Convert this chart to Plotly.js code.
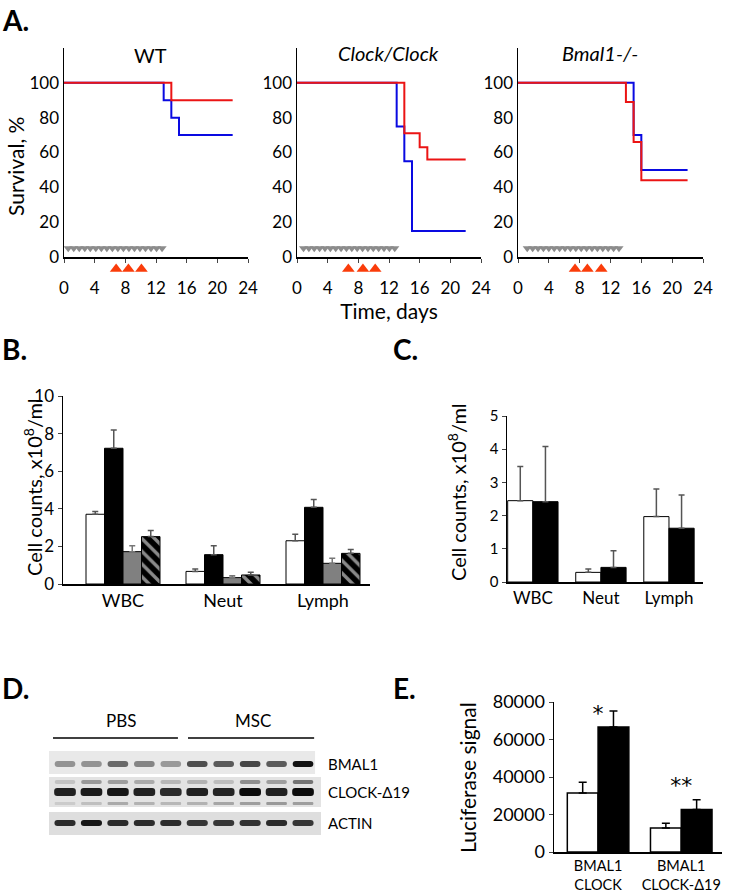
<!DOCTYPE html>
<html>
<head>
<meta charset="utf-8">
<script src="https://cdn.plot.ly/plotly-3.0.1.min.js"></script>
<style>html,body{margin:0;padding:0;background:#fff;}#chart{width:739px;height:896px;}</style>
</head>
<body>
<div id="chart"></div>
<script>
// ---------- Panel A: survival data ----------
const wtBlueT = [0, 13, 14, 15, 22];
const wtBlueS = [100, 90, 80, 70, 70];
const wtRedT = [0, 14, 22];
const wtRedS = [100, 90, 90];
const clockBlueT = [0, 13, 14, 15, 22];
const clockBlueS = [100, 75, 55, 15, 15];
const clockRedT = [0, 14, 16, 17, 22];
const clockRedS = [100, 71, 63, 56, 56];
const bmalBlueT = [0, 15, 16, 22];
const bmalBlueS = [100, 70, 50, 50];
const bmalRedT = [0, 14, 15, 16, 22];
const bmalRedS = [100, 89, 66, 44, 44];
// daily treatment marks (gray) and injections (red)
const grayDaysWT = [0.55, 1.27, 1.99, 2.71, 3.43, 4.15, 4.87, 5.59, 6.31, 7.03, 7.75, 8.47, 9.19, 9.91, 10.63, 11.35, 12.07, 12.79];
const grayDaysClock = [0.85, 1.55, 2.25, 2.95, 3.65, 4.35, 5.05, 5.75, 6.45, 7.15, 7.85, 8.55, 9.25, 9.95, 10.65, 11.35, 12.05, 12.75];
const grayDaysBmal = [1.2, 1.9, 2.6, 3.3, 4.0, 4.7, 5.4, 6.1, 6.8, 7.5, 8.2, 8.9, 9.6, 10.3, 11.0, 11.7, 12.4, 13.1];
const injDaysWT = [6.8, 8.4, 10.1];
const injDaysClock = [6.7, 8.6, 10.2];
const injDaysBmal = [7.4, 9.0, 10.8];

// ---------- Panel B ----------
const bCats = ["WBC", "Neut", "Lymph"];
const bWhite = [3.71, 0.67, 2.30];
const bWhiteErr = [0.14, 0.13, 0.34];
const bBlack = [7.22, 1.56, 4.08];
const bBlackErr = [0.97, 0.48, 0.42];
const bGray = [1.72, 0.34, 1.10];
const bGrayErr = [0.32, 0.10, 0.27];
const bHatch = [2.52, 0.48, 1.63];
const bHatchErr = [0.33, 0.14, 0.21];

// ---------- Panel C ----------
const cCats = ["WBC", "Neut", "Lymph"];
const cWhite = [2.45, 0.29, 1.97];
const cWhiteErr = [1.03, 0.10, 0.83];
const cBlack = [2.42, 0.44, 1.62];
const cBlackErr = [1.66, 0.50, 1.00];

// ---------- Panel D: western blot band intensities (0..1) ----------
const lanes = [1, 2, 3, 4, 5, 6, 7, 8, 9, 10];
const bmal1Band = [0.35, 0.35, 0.55, 0.42, 0.32, 0.68, 0.62, 0.72, 0.62, 0.97];
const clockBand = [0.9, 0.93, 0.95, 0.9, 0.85, 0.9, 0.88, 1.0, 0.9, 1.0];
const clockUpper = [0.12, 0.32, 0.3, 0.24, 0.18, 0.2, 0.15, 0.38, 0.3, 0.5];
const clockLower = [0.08, 0.14, 0.24, 0.2, 0.18, 0.2, 0.26, 0.3, 0.32, 0.3];
const actinBand = [0.85, 0.95, 0.85, 0.85, 0.85, 0.8, 0.8, 0.82, 0.85, 0.8];
const blotRows = ["BMAL1", "CLOCK-Δ19", "ACTIN"];
const groupLabels = ["PBS", "MSC"];

// ---------- Panel E ----------
const eCats = ["BMAL1<br>CLOCK", "BMAL1<br>CLOCK-Δ19"];
const eWhite = [31500, 12800];
const eWhiteErr = [5700, 2500];
const eBlack = [66700, 22600];
const eBlackErr = [8500, 5300];
const eStars = ["*", "**"];

// ---------- build ----------
const FONT = "Lato, 'Liberation Sans', sans-serif";
const RED = "rgb(235,20,20)";
const BLUE = "rgb(10,10,225)";
const traces = [];

function survPanel(ax, bt, bs, rt, rs, gray, inj) {
  const xa = ax === 1 ? "x" : "x" + ax, ya = ax === 1 ? "y" : "y" + ax;
  traces.push({x: gray, y: gray.map(() => 5), xaxis: xa, yaxis: ya, type: "scatter", mode: "markers",
    marker: {symbol: "triangle-down", size: 8, color: "#8c8c8c"}, cliponaxis: false, hoverinfo: "skip"});
  traces.push({x: bt, y: bs, xaxis: xa, yaxis: ya, type: "scatter", mode: "lines",
    line: {shape: "hv", color: BLUE, width: 2}});
  traces.push({x: rt, y: rs, xaxis: xa, yaxis: ya, type: "scatter", mode: "lines",
    line: {shape: "hv", color: RED, width: 2}});
  // injection markers sit just under the time axis, on a thin helper y axis
  traces.push({x: inj, y: inj.map(() => 0.5), xaxis: xa, yaxis: "y8", type: "scatter", mode: "markers",
    marker: {symbol: "triangle-up", size: 11, color: "rgb(250,60,10)"}, cliponaxis: false});
}
survPanel(1, wtBlueT, wtBlueS, wtRedT, wtRedS, grayDaysWT, injDaysWT);
survPanel(2, clockBlueT, clockBlueS, clockRedT, clockRedS, grayDaysClock, injDaysClock);
survPanel(3, bmalBlueT, bmalBlueS, bmalRedT, bmalRedS, grayDaysBmal, injDaysBmal);

function errBar(arr, col, w) {
  return {type: "data", array: arr, arrayminus: arr.map(() => 0), symmetric: false, color: col, thickness: 1.5, width: w};
}
const outline = {color: "#000", width: 1};
// B
traces.push({type: "bar", x: bCats, y: bWhite, xaxis: "x4", yaxis: "y4", marker: {color: "#fff", line: outline}, error_y: errBar(bWhiteErr, "#555", 3)});
traces.push({type: "bar", x: bCats, y: bBlack, xaxis: "x4", yaxis: "y4", marker: {color: "#000", line: outline}, error_y: errBar(bBlackErr, "#555", 3)});
traces.push({type: "bar", x: bCats, y: bGray, xaxis: "x4", yaxis: "y4", marker: {color: "#808080", line: outline}, error_y: errBar(bGrayErr, "#777", 3)});
traces.push({type: "bar", x: bCats, y: bHatch, xaxis: "x4", yaxis: "y4",
  marker: {color: "#000", line: outline, pattern: {shape: "\\", fgcolor: "#8a8a8a", bgcolor: "#000", size: 9, solidity: 0.38, fillmode: "replace"}},
  error_y: errBar(bHatchErr, "#555", 3)});
// C
traces.push({type: "bar", x: cCats, y: cWhite, xaxis: "x5", yaxis: "y5", marker: {color: "#fff", line: outline}, error_y: errBar(cWhiteErr, "#555", 3)});
traces.push({type: "bar", x: cCats, y: cBlack, xaxis: "x5", yaxis: "y5", marker: {color: "#000", line: outline}, error_y: errBar(cBlackErr, "#555", 3)});
// E
traces.push({type: "bar", x: eCats, y: eWhite, xaxis: "x7", yaxis: "y7", marker: {color: "#fff", line: {color: "#000", width: 1.5}}, error_y: errBar(eWhiteErr, "#000", 4)});
traces.push({type: "bar", x: eCats, y: eBlack, xaxis: "x7", yaxis: "y7", marker: {color: "#000", line: {color: "#000", width: 1.5}}, error_y: errBar(eBlackErr, "#000", 4)});
traces.push({type: "scatter", mode: "text", x: [eCats[0], eCats[1]], y: [73000, 34500], text: eStars, xaxis: "x7", yaxis: "y7",
  textfont: {family: "'DejaVu Sans', sans-serif", size: 22, color: "#000000"}, cliponaxis: false});

// D blot bands (y axis in pixel-like units, reversed)
function band(vals, center, thick, width) {
  traces.push({type: "bar", x: lanes, y: vals.map(() => thick), base: vals.map(() => center - thick / 2),
    xaxis: "x6", yaxis: "y6", width: width, offset: -width / 2,
    marker: {color: vals, colorscale: [[0, "#dcdcdc"], [1, "#0c0c0c"]], cmin: 0, cmax: 1, cornerradius: 3, line: {width: 0}},
    hoverinfo: "skip"});
}
band(bmal1Band, 764, 6, 0.78);
band(clockUpper, 782, 4, 0.78);
band(clockLower, 803.5, 3, 0.78);
band(clockBand, 792, 8, 0.82);
band(actinBand, 823, 6, 0.8);

const px = v => v / 739, py = v => 1 - v / 896;
const tickFont = {family: FONT, size: 17, color: "#000"};
const axLine = {showline: true, linecolor: "#000", linewidth: 1.5, zeroline: false, showgrid: false, fixedrange: true};

function ann(text, x, y, size, extra) {
  return Object.assign({text: text, x: px(x), y: py(y), xref: "paper", yref: "paper", xanchor: "center", yanchor: "middle",
    showarrow: false, font: {family: FONT, size: size, color: "#000"}}, extra || {});
}
const timeX = {range: [0, 24], tickvals: [0,4,8,12,16,20,24], ticks: "outside", ticklen: 4, tickfont: tickFont, ticklabelstandoff: 11};

const layout = {
  width: 739, height: 896, margin: {l: 0, r: 0, t: 0, b: 0},
  paper_bgcolor: "#fff", plot_bgcolor: "rgba(0,0,0,0)", showlegend: false,
  font: {family: FONT, color: "#000"},
  barmode: "group",
  xaxis:  Object.assign({}, axLine, timeX, {domain: [px(64), px(248)], anchor: "y"}),
  yaxis:  Object.assign({}, axLine, {domain: [py(257), py(48)], range: [0, 120], tickvals: [0,20,40,60,80,100], ticks: "", tickfont: tickFont, anchor: "x"}),
  xaxis2: Object.assign({}, axLine, timeX, {domain: [px(297), px(481)], anchor: "y2",
    title: {text: "Time, days", font: {family: FONT, size: 21}, standoff: 0}}),
  yaxis2: Object.assign({}, axLine, {domain: [py(257), py(48)], range: [0, 120], tickvals: [0,20,40,60,80,100], ticks: "", tickfont: tickFont, anchor: "x2"}),
  xaxis3: Object.assign({}, axLine, timeX, {domain: [px(518), px(703)], anchor: "y3"}),
  yaxis3: Object.assign({}, axLine, {domain: [py(257), py(48)], range: [0, 120], tickvals: [0,20,40,60,80,100], ticks: "", tickfont: tickFont, anchor: "x3"}),
  yaxis8: {domain: [py(281), py(257)], range: [0, 1], visible: false, fixedrange: true, anchor: "free", position: 0},
  xaxis4: Object.assign({}, axLine, {domain: [px(63), px(370)], range: [-0.6, 2.47], type: "category", ticks: "", tickfont: {family: FONT, size: 18}, anchor: "y4"}),
  yaxis4: Object.assign({}, axLine, {domain: [py(584), py(396)], range: [0, 10], dtick: 2, ticks: "outside", ticklen: 4, tickfont: tickFont, anchor: "x4"}),
  xaxis5: Object.assign({}, axLine, {domain: [px(507), px(703)], range: [-0.38, 2.5], type: "category", ticks: "", tickfont: {family: FONT, size: 17}, anchor: "y5"}),
  yaxis5: Object.assign({}, axLine, {domain: [py(582), py(416)], range: [0, 5], dtick: 1, ticks: "outside", ticklen: 4, tickfont: {family: FONT, size: 15}, anchor: "x5"}),
  xaxis6: {domain: [px(40), px(330)], range: [0.0545, 11.02], visible: false, fixedrange: true, anchor: "y6"},
  yaxis6: {domain: [py(845), py(745)], range: [845, 745], visible: false, fixedrange: true, anchor: "x6"},
  xaxis7: Object.assign({}, axLine, {domain: [px(554), px(722)], range: [-0.53, 1.49], type: "category", ticks: "", tickfont: {family: FONT, size: 14.5}, anchor: "y7"}),
  yaxis7: Object.assign({}, axLine, {domain: [py(852), py(702)], range: [0, 80000], dtick: 20000, tickformat: "d", ticks: "outside", ticklen: 4, tickfont: {family: FONT, size: 18}, anchor: "x7"}),
  bargap: 0.26,
  shapes: [
    {type: "rect", xref: "x6", yref: "y6", x0: 0.395, x1: 10.455, y0: 751, y1: 774, fillcolor: "#e9e9e9", line: {width: 0}, layer: "below"},
    {type: "rect", xref: "x6", yref: "y6", x0: 0.395, x1: 10.68, y0: 777, y1: 807, fillcolor: "#e3e3e3", line: {width: 0}, layer: "below"},
    {type: "rect", xref: "x6", yref: "y6", x0: 0.395, x1: 10.68, y0: 812, y1: 835, fillcolor: "#dedede", line: {width: 0}, layer: "below"},
    {type: "line", xref: "x6", yref: "paper", x0: 0.546, x1: 5.27, y0: py(738), y1: py(738), line: {color: "#000", width: 1.5}},
    {type: "line", xref: "x6", yref: "paper", x0: 5.65, x1: 10.42, y0: py(738), y1: py(738), line: {color: "#000", width: 1.5}}
  ],
  annotations: [
    ann("<b>A.</b>", 0, 20, 28, {xanchor: "left"}),
    ann("<b>B.</b>", 0, 349, 28, {xanchor: "left"}),
    ann("<b>C.</b>", 391, 349, 28, {xanchor: "left"}),
    ann("<b>D.</b>", 0, 688, 28, {xanchor: "left"}),
    ann("<b>E.</b>", 391, 688, 28, {xanchor: "left"}),
    ann("WT", 150, 55, 20),
    ann("<i>Clock/Clock</i>", 388, 53, 20),
    ann("<i>Bmal1-/-</i>", 600, 53, 20),
    ann("Survival, %", 15, 167, 21, {textangle: -90}),
    ann("Cell counts, x10<sup>8</sup>/ml", 33, 487, 20, {textangle: -90}),
    ann("Cell counts, x10<sup>8</sup>/ml", 457, 492, 20, {textangle: -90}),
    ann("Luciferase signal", 467, 778, 21, {textangle: -90}),
    {text: groupLabels[0], x: 3.12, y: py(720), xref: "x6", yref: "paper", xanchor: "center", yanchor: "middle", showarrow: false, font: {family: FONT, size: 17}},
    {text: groupLabels[1], x: 8.11, y: py(720), xref: "x6", yref: "paper", xanchor: "center", yanchor: "middle", showarrow: false, font: {family: FONT, size: 17}},
    {text: blotRows[0], x: px(326), y: 764, xref: "paper", yref: "y6", xanchor: "left", yanchor: "middle", showarrow: false, font: {family: FONT, size: 15}},
    {text: blotRows[1], x: px(326), y: 792, xref: "paper", yref: "y6", xanchor: "left", yanchor: "middle", showarrow: false, font: {family: FONT, size: 15}},
    {text: blotRows[2], x: px(326), y: 823, xref: "paper", yref: "y6", xanchor: "left", yanchor: "middle", showarrow: false, font: {family: FONT, size: 15}}
  ]
};
Plotly.newPlot("chart", traces, layout, {displayModeBar: false, staticPlot: true});
</script>
</body>
</html>
